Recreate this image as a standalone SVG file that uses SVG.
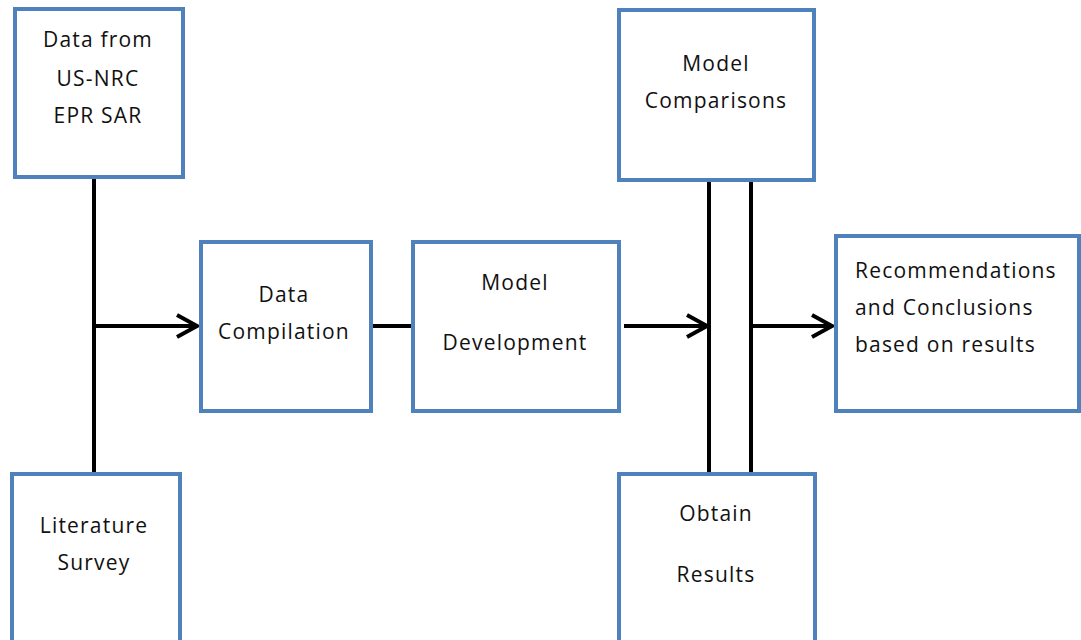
<svg xmlns="http://www.w3.org/2000/svg" width="1081" height="640" viewBox="0 0 1081 640">
<defs>
<style>
.box{fill:#fff;stroke:#4F81BD;stroke-width:4}
.ln{fill:none;stroke:#000;stroke-width:4}
.ah{fill:none;stroke:#000;stroke-width:4;stroke-linejoin:miter}
.t{font-family:"Open Sans","Liberation Sans",Arial,sans-serif;font-size:21px;fill:#111;letter-spacing:1.2px}
.c{text-anchor:middle}
</style>
</defs>
<rect width="1081" height="640" fill="#fff"/>
<g id="connectors">
<line class="ln" x1="94" y1="178" x2="94" y2="473"/>
<line class="ln" x1="94" y1="326" x2="196" y2="326"/>
<polyline class="ah" points="177,315 197,326 177,337"/>
<line class="ln" x1="372" y1="326" x2="412" y2="326"/>
<line class="ln" x1="624" y1="326" x2="706" y2="326"/>
<polyline class="ah" points="687,315 707,326 687,337"/>
<line class="ln" x1="709" y1="180" x2="709" y2="473"/>
<line class="ln" x1="751" y1="180" x2="751" y2="473"/>
<line class="ln" x1="751" y1="326" x2="831" y2="326"/>
<polyline class="ah" points="812,315 832,326 812,337"/>
</g>
<g id="n1">
<rect class="box" x="15" y="9" width="168" height="168"/>
<text class="t c" x="98" y="47">Data from</text>
<text class="t c" x="98" y="86">US-NRC</text>
<text class="t c" x="98" y="123">EPR SAR</text>
</g>
<g id="n2">
<rect class="box" x="12" y="474" width="168" height="170"/>
<text class="t c" x="94" y="533">Literature</text>
<text class="t c" x="94" y="570">Survey</text>
</g>
<g id="n3">
<rect class="box" x="201" y="242" width="170" height="169"/>
<text class="t c" x="284" y="302">Data</text>
<text class="t c" x="284" y="339">Compilation</text>
</g>
<g id="n4">
<rect class="box" x="413" y="242" width="206" height="169"/>
<text class="t c" x="515" y="290">Model</text>
<text class="t c" x="515" y="350">Development</text>
</g>
<g id="n5">
<rect class="box" x="619" y="10" width="195" height="170"/>
<text class="t c" x="716" y="71">Model</text>
<text class="t c" x="716" y="108">Comparisons</text>
</g>
<g id="n6">
<rect class="box" x="619" y="474" width="196" height="170"/>
<text class="t c" x="716" y="521">Obtain</text>
<text class="t c" x="716" y="582">Results</text>
</g>
<g id="n7">
<rect class="box" x="836" y="236" width="243" height="175"/>
<text class="t" x="855" y="278">Recommendations</text>
<text class="t" x="855" y="315">and Conclusions</text>
<text class="t" x="855" y="352">based on results</text>
</g>
</svg>
